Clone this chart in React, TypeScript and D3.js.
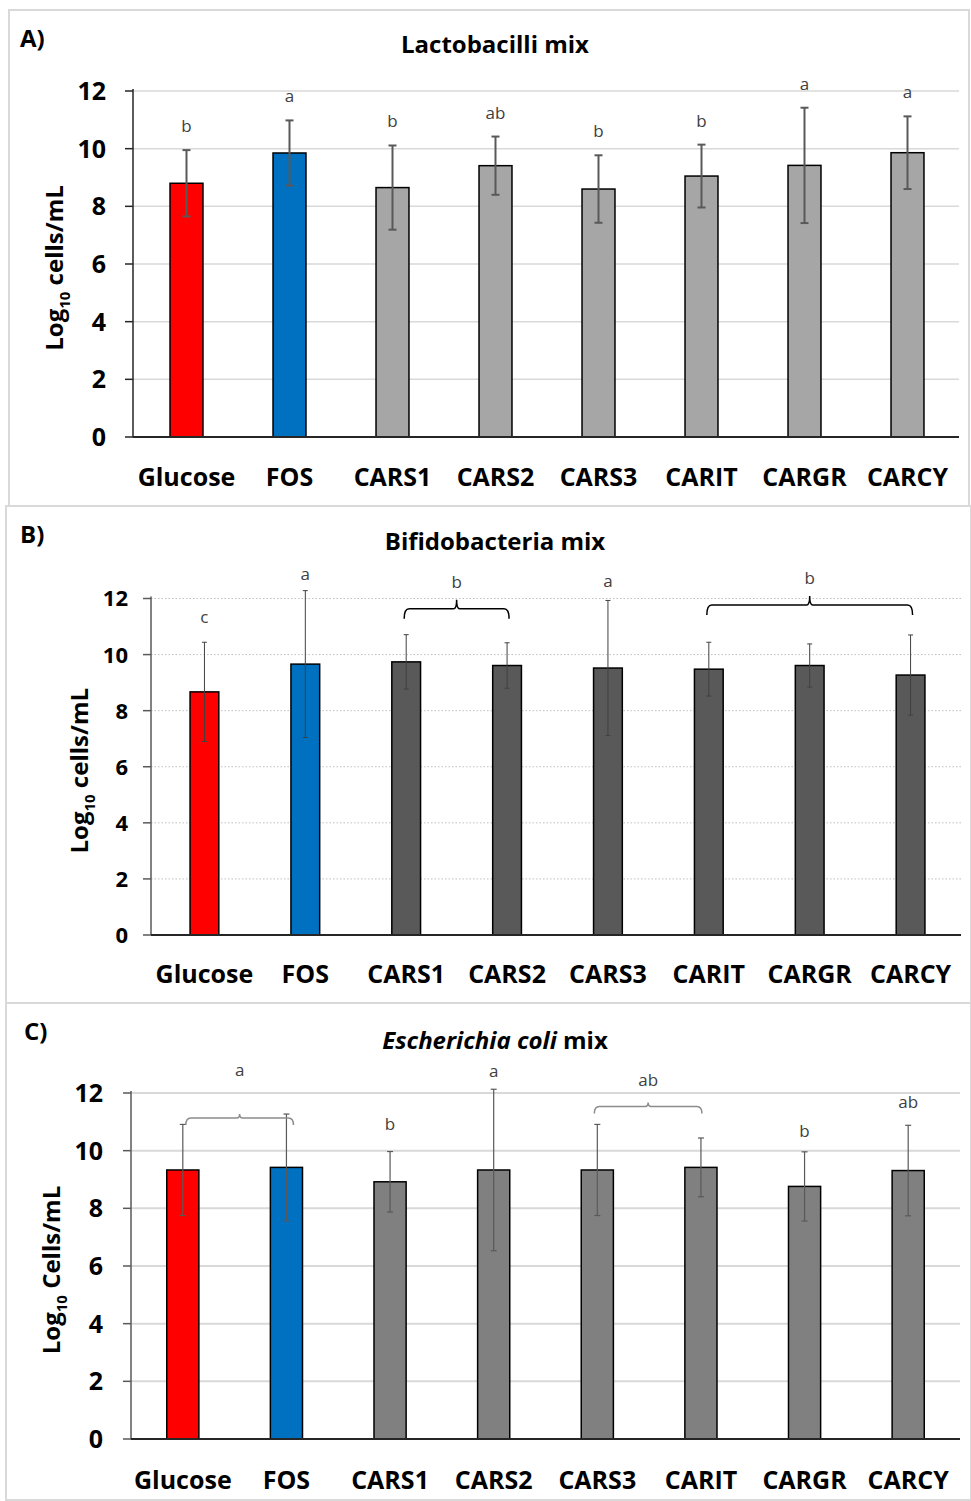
import * as d3 from "d3";
import React from "react";

const categories = ["Glucose", "FOS", "CARS1", "CARS2", "CARS3", "CARIT", "CARGR", "CARCY"];
const yTicks = [0, 2, 4, 6, 8, 10, 12];

// A) Lactobacilli mix
const lactoMeans = [8.8, 9.85, 8.65, 9.41, 8.6, 9.05, 9.42, 9.86];
const lactoErr = [1.15, 1.13, 1.46, 1.01, 1.17, 1.09, 2.0, 1.26];
const lactoLetters = ["b", "a", "b", "ab", "b", "b", "a", "a"];

// B) Bifidobacteria mix
const bifidoMeans = [8.67, 9.66, 9.74, 9.61, 9.52, 9.48, 9.61, 9.27];
const bifidoErr = [1.77, 2.62, 0.97, 0.81, 2.41, 0.96, 0.77, 1.43];
const bifidoLetters = ["c", "a", "b", "a", "b"];

// C) Escherichia coli mix
const ecoliMeans = [9.33, 9.42, 8.92, 9.33, 9.33, 9.42, 8.76, 9.31];
const ecoliErr = [1.58, 1.85, 1.05, 2.8, 1.58, 1.02, 1.2, 1.57];
const ecoliLetters = ["a", "b", "a", "ab", "b", "ab"];

const barColor = (i: number, other: string) => (i === 0 ? "#ff0000" : i === 1 ? "#0070c0" : other);
const FONT = "'Open Sans', sans-serif";

type Note = { from: number; to: number; lift: number; letterLift?: number; shift?: number };

type PanelProps = {
  tag: string;
  tagX: number;
  title: React.ReactNode;
  titleY: number;
  box: [number, number, number, number];
  plot: { left: number; right: number; top: number; bottom: number };
  barStart?: number;
  barFrac: number;
  means: number[];
  errs: number[];
  letters: string[];
  notes: Note[];
  fill: string;
  ylabel: string;
  ylabelX: number;
  tickEnd: number;
  tickSize: number;
  catY: number;
  grid: { color: string; width: number; dash?: string };
  err: { color: string; width: number; cap: number };
  axisColor: string;
  bracket: { color: string; end: number; mid: number; width: number };
};

function Panel(p: PanelProps) {
  const { left, right, top, bottom } = p.plot;
  const pad = 1 - p.barFrac;
  const x = d3
    .scaleBand()
    .domain(categories)
    .range([p.barStart ?? left, right])
    .paddingInner(pad)
    .paddingOuter(pad / 2);
  const y = d3.scaleLinear().domain([0, 12]).range([bottom, top]);
  const bw = x.bandwidth();
  const cx = (i: number) => (x(categories[i]) as number) + bw / 2;
  const upper = (i: number) => y(p.means[i] + p.errs[i]);

  return (
    <g fontFamily={FONT}>
      <rect x={p.box[0]} y={p.box[1]} width={p.box[2]} height={p.box[3]} fill="#fff" stroke="#d9d9d9" strokeWidth={2} />
      <text x={p.tagX} y={p.box[1] + 37} fontSize={24} fontWeight="bold">{p.tag}</text>
      <text x={495} y={p.titleY} fontSize={24} fontWeight="bold" textAnchor="middle">{p.title}</text>

      {yTicks.filter((t) => t > 0).map((t) => (
        <line key={t} x1={left} x2={right} y1={y(t)} y2={y(t)} stroke={p.grid.color} strokeWidth={p.grid.width} strokeDasharray={p.grid.dash} />
      ))}
      {yTicks.map((t) => (
        <g key={t}>
          <line x1={left - 8} x2={left} y1={y(t)} y2={y(t)} stroke={p.axisColor} strokeWidth={1.5} />
          <text x={p.tickEnd} y={y(t)} dy="0.36em" textAnchor="end" fontSize={p.tickSize} fontWeight="bold">{t}</text>
        </g>
      ))}
      <line x1={left} x2={left} y1={top - 2} y2={bottom} stroke={p.axisColor} strokeWidth={1.5} />

      {p.means.map((m, i) => (
        <rect key={i} x={x(categories[i])} y={y(m)} width={bw} height={bottom - y(m)} fill={barColor(i, p.fill)} stroke="#000" strokeWidth={1.5} />
      ))}
      <line x1={left} x2={right} y1={bottom} y2={bottom} stroke="#262626" strokeWidth={2} />

      {p.means.map((m, i) => {
        const hi = upper(i);
        const lo = y(m - p.errs[i]);
        const c = cx(i);
        const h = p.err.cap / 2;
        return (
          <g key={i} stroke={p.err.color} strokeWidth={p.err.width}>
            <line x1={c} x2={c} y1={hi} y2={lo} />
            <line x1={c - h} x2={c + h} y1={hi} y2={hi} />
            <line x1={c - h} x2={c + h} y1={lo} y2={lo} />
          </g>
        );
      })}

      {p.notes.map((n, k) => {
        const idx = d3.range(n.from, n.to + 1);
        const topY = d3.min(idx, upper) as number;
        if (n.from === n.to) {
          return (
            <text key={k} x={cx(n.from)} y={topY - n.lift} dy="0.35em" textAnchor="middle" fontSize={17} fill="#404040">{p.letters[k]}</text>
          );
        }
        const s = n.shift ?? 0;
        const x1 = cx(n.from) - 2 + s;
        const x2 = cx(n.to) + 2 + s;
        const ly = topY - n.lift;
        const mx = (x1 + x2) / 2;
        const b = p.bracket;
        const d = `M${x1},${ly + b.end} Q${x1},${ly} ${x1 + 5},${ly} L${mx - 3},${ly} Q${mx},${ly} ${mx},${ly - b.mid} Q${mx},${ly} ${mx + 3},${ly} L${x2 - 5},${ly} Q${x2},${ly} ${x2},${ly + b.end}`;
        return (
          <g key={k}>
            <path d={d} fill="none" stroke={b.color} strokeWidth={b.width} />
            <text x={mx} y={ly - (n.letterLift ?? 27)} dy="0.35em" textAnchor="middle" fontSize={17} fill="#404040">{p.letters[k]}</text>
          </g>
        );
      })}

      {categories.map((c, i) => (
        <text key={c} x={cx(i)} y={p.catY} textAnchor="middle" fontSize={25} fontWeight="bold">{c}</text>
      ))}

      <text transform={`translate(${p.ylabelX},${(top + bottom) / 2 + 4}) rotate(-90)`} textAnchor="middle" dy="0.35em" fontSize={24} fontWeight="bold">
        Log<tspan fontSize={15} dy="7">10</tspan><tspan dy="-7"> {p.ylabel}</tspan>
      </text>
    </g>
  );
}

export default function App() {
  return (
    <svg width={971} height={1501} style={{ position: "absolute", left: 0, top: 0, background: "#fff" }}>
      <Panel
        tag="A)"
        tagX={20}
        title="Lactobacilli mix"
        titleY={53}
        box={[9, 10, 960, 496]}
        plot={{ left: 133, right: 959, top: 91, bottom: 437 }}
        barStart={135}
        barFrac={0.32}
        means={lactoMeans}
        errs={lactoErr}
        letters={lactoLetters}
        notes={d3.range(8).map((i) => ({ from: i, to: i, lift: 24 }))}
        fill="#a6a6a6"
        ylabel="cells/mL"
        ylabelX={55}
        tickEnd={106}
        tickSize={25}
        catY={486}
        grid={{ color: "#d9d9d9", width: 1.5 }}
        err={{ color: "#595959", width: 2, cap: 8 }}
        axisColor="#262626"
        bracket={{ color: "#000", end: 8, mid: 8, width: 1.5 }}
      />
      <Panel
        tag="B)"
        tagX={20}
        title="Bifidobacteria mix"
        titleY={550}
        box={[6, 506, 965, 497]}
        plot={{ left: 151, right: 961, top: 598.5, bottom: 935 }}
        barStart={154}
        barFrac={0.285}
        means={bifidoMeans}
        errs={bifidoErr}
        letters={bifidoLetters}
        notes={[
          { from: 0, to: 0, lift: 25 },
          { from: 1, to: 1, lift: 17 },
          { from: 2, to: 3, lift: 26, letterLift: 27 },
          { from: 4, to: 4, lift: 19 },
          { from: 5, to: 7, lift: 30, letterLift: 27 },
        ]}
        fill="#595959"
        ylabel="cells/mL"
        ylabelX={80}
        tickEnd={128}
        tickSize={22}
        catY={983}
        grid={{ color: "#bfbfbf", width: 1, dash: "1.5 2" }}
        err={{ color: "#404040", width: 1, cap: 5 }}
        axisColor="#595959"
        bracket={{ color: "#000", end: 10, mid: 9, width: 1.5 }}
      />
      <Panel
        tag="C)"
        tagX={24}
        title={
          <>
            <tspan fontStyle="italic">Escherichia coli</tspan> mix
          </>
        }
        titleY={1049}
        box={[6, 1003, 965, 497]}
        plot={{ left: 131, right: 960, top: 1093, bottom: 1439 }}
        barFrac={0.31}
        means={ecoliMeans}
        errs={ecoliErr}
        letters={ecoliLetters}
        notes={[
          { from: 0, to: 1, lift: -4, letterLift: 48, shift: 5 },
          { from: 2, to: 2, lift: 27 },
          { from: 3, to: 3, lift: 18 },
          { from: 4, to: 5, lift: 18, letterLift: 26, shift: -1 },
          { from: 6, to: 6, lift: 21 },
          { from: 7, to: 7, lift: 23 },
        ]}
        fill="#808080"
        ylabel="Cells/mL"
        ylabelX={52}
        tickEnd={103}
        tickSize={25}
        catY={1489}
        grid={{ color: "#d9d9d9", width: 2 }}
        err={{ color: "#595959", width: 1.2, cap: 6 }}
        axisColor="#595959"
        bracket={{ color: "#8c8c8c", end: 7, mid: 4, width: 1.5 }}
      />
    </svg>
  );
}
